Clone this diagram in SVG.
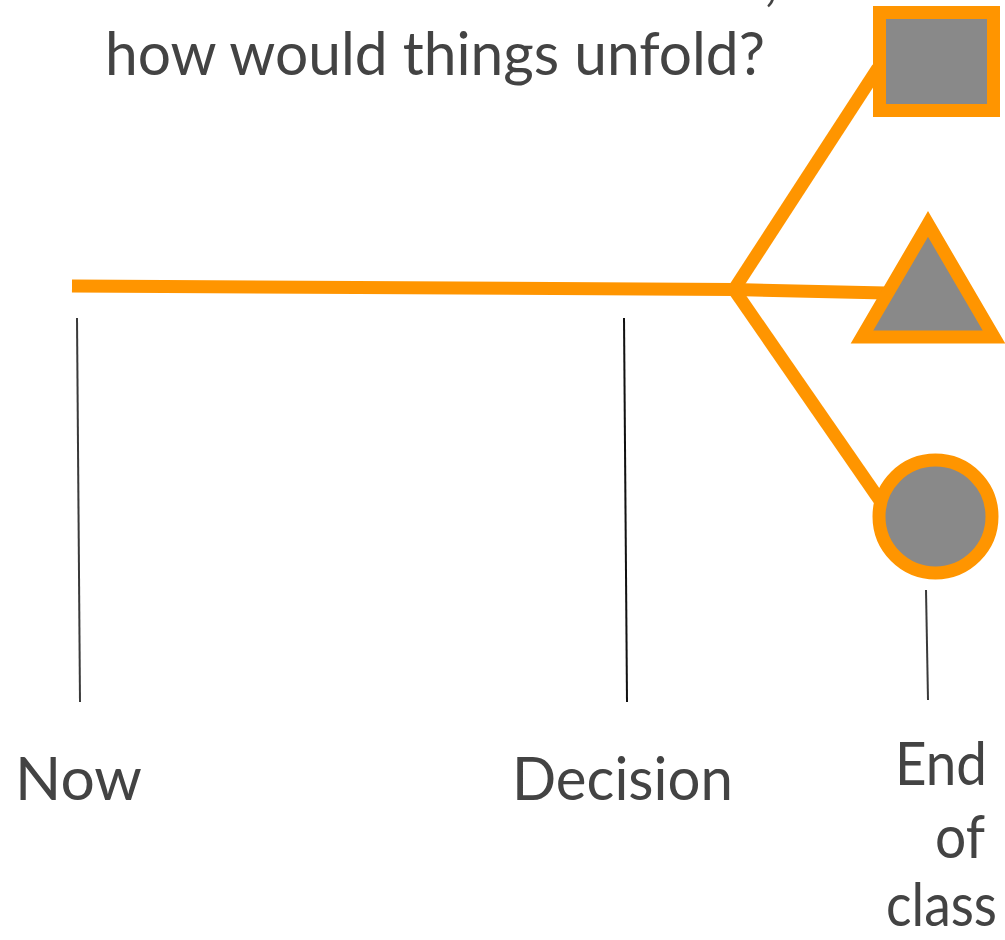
<svg xmlns="http://www.w3.org/2000/svg" width="1005" height="940" viewBox="0 0 1005 940">
<style>
.t{font-family:Lato,"Open Sans","Liberation Sans",sans-serif;fill:#434343;font-size:60px}
.o{stroke:#FF9500;stroke-width:13;fill:none;stroke-linecap:butt}
.shape{fill:#898989;stroke:#FF9500;stroke-width:13;stroke-linejoin:miter}
.tick{stroke:#3a3a3a;stroke-width:2;fill:none}
</style>
<rect width="1005" height="940" fill="#fff"/>
<text class="t" x="764" y="-1">,</text>
<text class="t" x="105" y="75" textLength="660" lengthAdjust="spacingAndGlyphs">how would things unfold?</text>
<g id="connectors">
<path class="o" d="M72 286 L734 289.5"/>
<path class="o" d="M734 289.5 L878 68"/>
<path class="o" d="M734 289.5 L886 293"/>
<path class="o" d="M734 289.5 L881 502"/>
<path class="tick" d="M77 318 L80 702"/>
<path class="tick" d="M624 318 L627 702" style="stroke:#111"/>
<path class="tick" d="M926 590 L928 700"/>
</g>
<g id="square"><rect class="shape" x="879.5" y="12.5" width="114" height="98"/></g>
<g id="triangle"><polygon class="shape" points="928,224 862,337 994,337"/></g>
<g id="circle"><circle class="shape" cx="935.5" cy="516.5" r="56.5"/></g>
<g id="now"><text class="t" x="15" y="800" textLength="127" lengthAdjust="spacingAndGlyphs">Now</text></g>
<g id="decision"><text class="t" x="512" y="800" textLength="221" lengthAdjust="spacingAndGlyphs">Decision</text></g>
<g id="end">
<text class="t" x="895" y="785" textLength="92" lengthAdjust="spacingAndGlyphs">End</text>
<text class="t" x="935" y="858" textLength="50" lengthAdjust="spacingAndGlyphs">of</text>
<text class="t" x="886" y="926" textLength="111" lengthAdjust="spacingAndGlyphs">class</text>
</g>
</svg>
